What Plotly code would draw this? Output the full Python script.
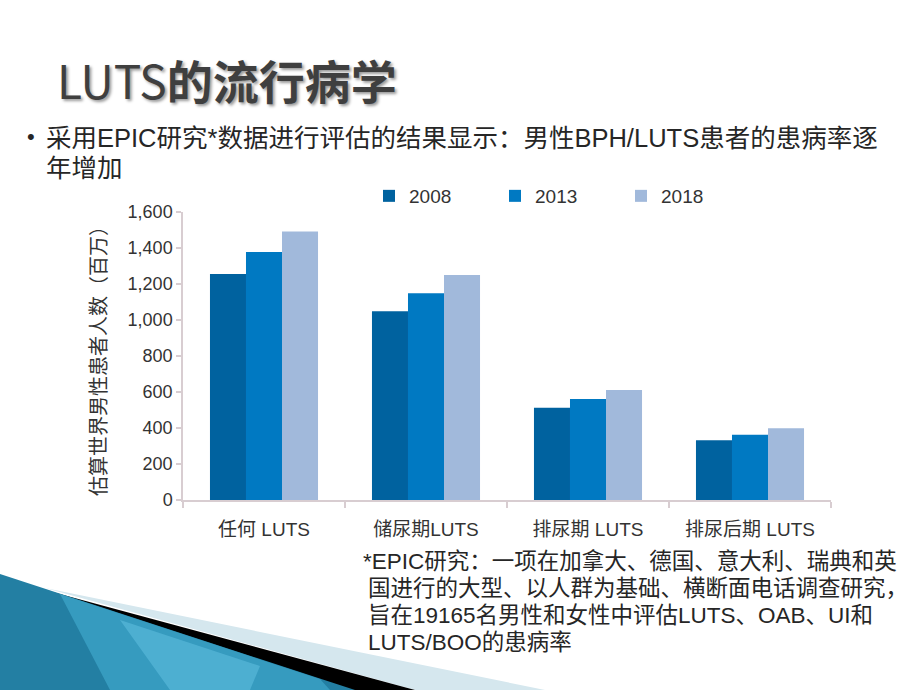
import plotly.graph_objects as go

categories = ["任何 LUTS", "储尿期LUTS", "排尿期 LUTS", "排尿后期 LUTS"]
years = ["2008", "2013", "2018"]
values_2008 = [1256, 1048, 513, 332]
values_2013 = [1378, 1148, 561, 363]
values_2018 = [1492, 1250, 611, 398]
series_colors = ["#00629F", "#0079C2", "#A1B9DB"]

title_text = "LUTS<b>的流行病学</b>"
bullet_lines = ["采用EPIC研究*数据进行评估的结果显示：男性BPH/LUTS患者的患病率逐", "年增加"]
footnote_lines = [
    "*EPIC研究：一项在加拿大、德国、意大利、瑞典和英",
    "国进行的大型、以人群为基础、横断面电话调查研究，",
    "旨在19165名男性和女性中评估LUTS、OAB、UI和",
    "LUTS/BOO的患病率",
]
y_title = "估算世界男性患者人数（百万）"

W, H = 920, 690
L, R, T, B = 183, 831, 212, 500


def px(x):
    return (x - L) / (R - L)


def py(y):
    return (B - y) / (B - T)


CJK = "Noto Sans CJK SC"
ARIAL = "Liberation Sans, Noto Sans CJK SC"

fig = go.Figure()
for name, vals, col in zip(years, [values_2008, values_2013, values_2018], series_colors):
    fig.add_trace(go.Bar(x=categories, y=vals, name=name, marker_color=col,
                         marker_line_width=0))

annotations = []
annotations.append(dict(text=title_text, x=px(55), y=py(79), xref="paper", yref="paper",
                        xanchor="left", yanchor="middle", showarrow=False,
                        font=dict(family=CJK, size=46, color="#3f3f3f",
                                  shadow="2px 2px 3px #9a9a9a")))
annotations.append(dict(text="•", x=px(31), y=py(137), xref="paper", yref="paper",
                        xanchor="center", yanchor="middle", showarrow=False,
                        font=dict(family=ARIAL, size=22, color="#262626")))
for i, line in enumerate(bullet_lines):
    annotations.append(dict(text=line, x=px(44), y=py(138 + 30 * i), xref="paper",
                            yref="paper", xanchor="left", yanchor="middle", align="left",
                            showarrow=False,
                            font=dict(family=ARIAL, size=25.5, color="#262626")))
for i, line in enumerate(footnote_lines):
    annotations.append(dict(text=line, x=px(361 if i == 0 else 366), y=py(561 + 27 * i),
                            xref="paper", yref="paper", xanchor="left", yanchor="middle",
                            align="left", showarrow=False,
                            font=dict(family=ARIAL, size=22.5, color="#262626")))


def path(pts):
    return "M " + " L ".join(f"{px(x)},{py(y)}" for x, y in pts) + " Z"


shapes = [
    dict(type="path", xref="paper", yref="paper", layer="above",
         path=path([(45, 588), (545, 690), (415, 690)]),
         fillcolor="#D5E7EE", line_width=0),
    dict(type="path", xref="paper", yref="paper", layer="above",
         path=path([(45, 590), (415, 690), (352, 690)]),
         fillcolor="#000000", line_width=0),
    dict(type="path", xref="paper", yref="paper", layer="above",
         path=path([(0, 574), (355, 690), (0, 690)]),
         fillcolor="#237FA3", line_width=0),
    dict(type="path", xref="paper", yref="paper", layer="above",
         path=path([(60, 594), (320, 679), (330, 690), (110, 690)]),
         fillcolor="#3FA6CB", opacity=0.7, line_width=0),
    dict(type="path", xref="paper", yref="paper", layer="above",
         path=path([(120, 620), (260, 666), (250, 690), (170, 690)]),
         fillcolor="#5DBDDD", opacity=0.6, line_width=0),
]

axis_col = "#D8CDD1"
fig.update_layout(
    width=W, height=H,
    margin=dict(l=L, r=W - R, t=T, b=H - B, autoexpand=False),
    paper_bgcolor="white", plot_bgcolor="white",
    barmode="group", bargap=0.333, bargroupgap=0,
    font=dict(family=ARIAL, size=19, color="#333333"),
    legend=dict(orientation="h", x=px(369), y=py(196), xanchor="left", yanchor="middle",
                entrywidth=81, entrywidthmode="pixels", bgcolor="rgba(0,0,0,0)",
                font=dict(family=ARIAL, size=19, color="#333333"), traceorder="normal"),
    xaxis=dict(showline=True, linecolor=axis_col, linewidth=1.5, ticks="outside",
               tickson="boundaries", ticklen=6, tickcolor=axis_col, tickwidth=1.5,
               ticklabelstandoff=11,
               showgrid=False, tickfont=dict(family=ARIAL, size=19, color="#333333"),
               automargin=False),
    yaxis=dict(range=[0, 1600], dtick=200, tickformat=",", showline=True, linecolor=axis_col,
               linewidth=1.5, ticks="outside", ticklen=5, tickcolor=axis_col, tickwidth=1.5,
               showgrid=False, zeroline=False, automargin=False,
               tickfont=dict(family=ARIAL, size=18, color="#333333"),
               title=dict(text=y_title, standoff=16,
                          font=dict(family=CJK, size=20, color="#333333"))),
    annotations=annotations,
    shapes=shapes,
)

fig.write_html("out.html", config={"displayModeBar": False},
               post_script="document.body.style.margin='0';")
